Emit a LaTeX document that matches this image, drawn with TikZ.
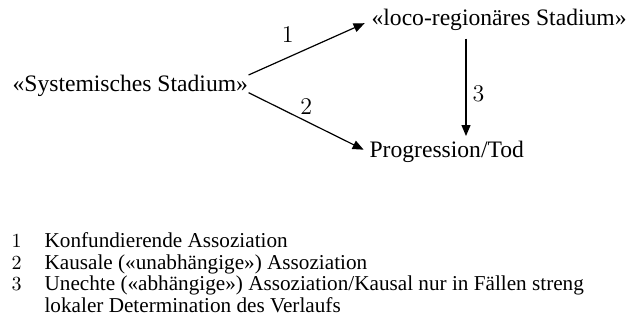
\documentclass[tikz,border=0pt]{standalone}
\usepackage[no-math]{fontspec}
\setmainfont{Liberation Serif}
\usetikzlibrary{arrows.meta}

\begin{document}
\begin{tikzpicture}[x=0.5pt, y=-0.5pt, line width=0.6pt,
  stage/.style={inner sep=0pt, font=\fontsize{11.8}{14}\selectfont},
  num/.style={inner sep=2pt, font=\fontsize{11.8}{14}\selectfont},
  keynum/.style={inner sep=0pt, font=\fontsize{10}{10.75}\selectfont},
  keytext/.style={inner sep=0pt, align=left, font=\fontsize{10.6}{10.75}\selectfont},
  arr/.style={-{Triangle[length=5.5pt,width=4.5pt]}}]

\useasboundingbox (0,0) rectangle (630,324);

\node [stage, anchor=base west] (sys) at (12,92) {«Systemisches Stadium»};
\node [stage, anchor=base west] (loco) at (371,26) {«loco-regionäres Stadium»};
\node [stage, anchor=base west] (prog) at (369,158) {Progression/Tod};

\draw [arr, shorten >=3.5pt] (sys.north east) -- (loco.west) node [num, pos=0.32, above=5pt] {$1$};
\draw [arr, shorten >=3pt] ([yshift=2.5pt]sys.south east) -- (prog.west) node [num, pos=0.48, above=1pt] {$2$};
\draw [arr, shorten <=3.5pt, shorten >=2.5pt] ([xshift=47.5pt]loco.south west) -- ([xshift=47.5pt]loco.south west |- prog.north) node [num, pos=0.57, right=1pt] {$3$};

\node [keynum, anchor=base west] (n1) at (11,248) {$1$};
\node [keytext, anchor=base west] (k1) at (44,248) {Konfundierende Assoziation};
\node [keynum, anchor=base west] (n2) at (11,269.5) {$2$};
\node [keytext, anchor=base west] (k2) at (44,269.5) {Kausale («unabhängige») Assoziation};
\node [keynum, anchor=base west] (n3) at (11,291) {$3$};
\node [keytext, anchor=base west] (k3) at (44,312.5) {Unechte («abhängige») Assoziation/Kausal nur in Fällen streng\\lokaler Determination des Verlaufs};

\end{tikzpicture}
\end{document}
